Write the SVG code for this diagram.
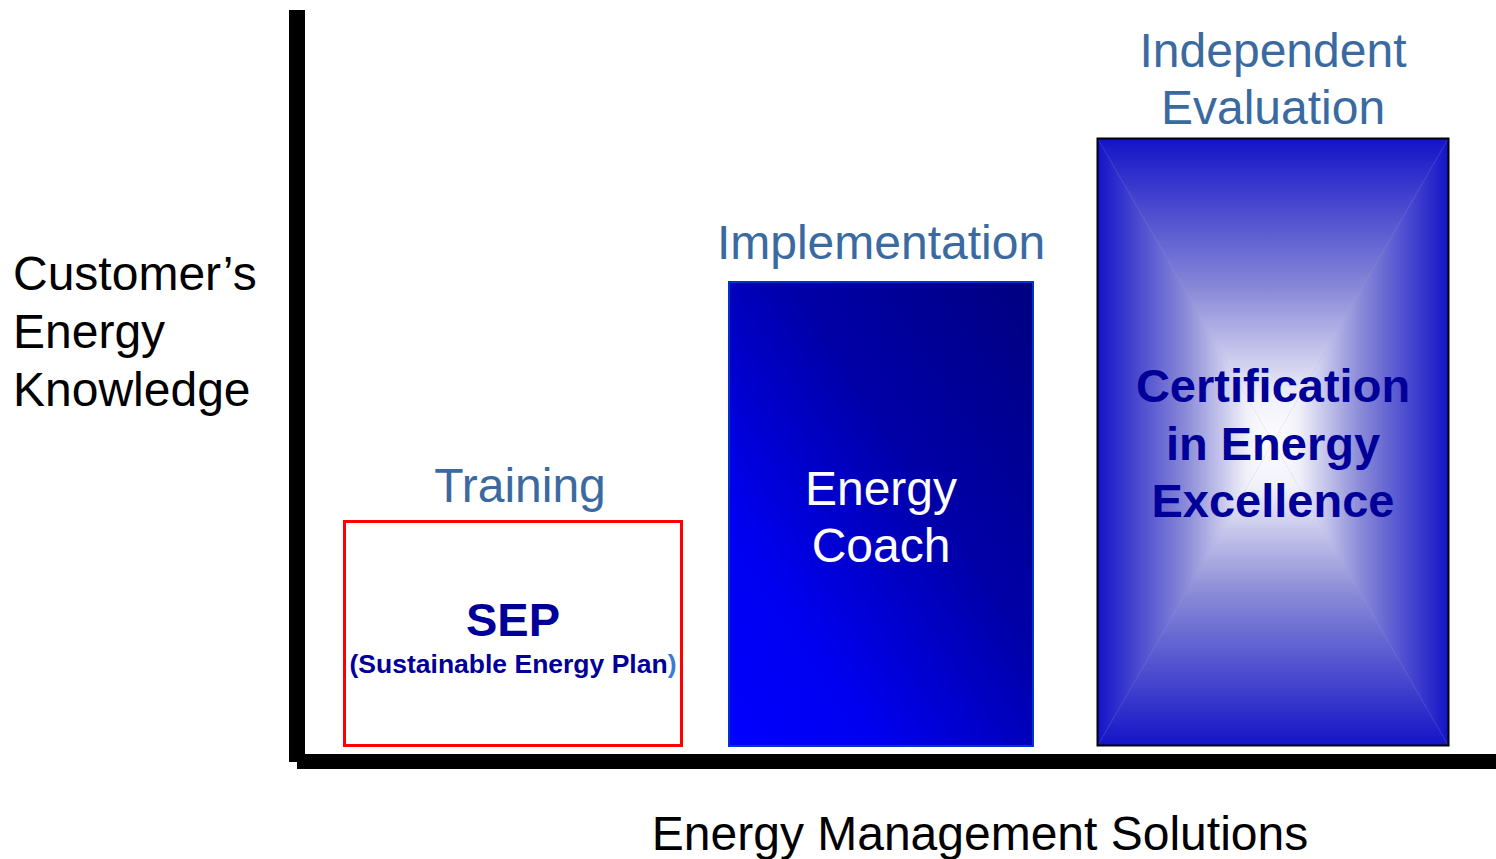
<svg xmlns="http://www.w3.org/2000/svg" width="1496" height="859" viewBox="0 0 1496 859">
<defs>
<linearGradient id="coachGrad" x1="0" y1="1" x2="1" y2="0">
<stop offset="0" stop-color="#0000ff"/>
<stop offset="0.25" stop-color="#0000f0"/>
<stop offset="0.6" stop-color="#0000a8"/>
<stop offset="1" stop-color="#000080"/>
</linearGradient>
<linearGradient id="gTop" gradientUnits="userSpaceOnUse" x1="0" y1="139" x2="0" y2="442">
<stop offset="0" stop-color="#1414c8"/><stop offset="0.5" stop-color="#8a8ad8"/><stop offset="0.85" stop-color="#f0f0fa"/><stop offset="1" stop-color="#ffffff"/>
</linearGradient>
<linearGradient id="gBot" gradientUnits="userSpaceOnUse" x1="0" y1="745" x2="0" y2="442">
<stop offset="0" stop-color="#1414c8"/><stop offset="0.5" stop-color="#8a8ad8"/><stop offset="0.85" stop-color="#f0f0fa"/><stop offset="1" stop-color="#ffffff"/>
</linearGradient>
<linearGradient id="gLeft" gradientUnits="userSpaceOnUse" x1="1098" y1="0" x2="1273" y2="0">
<stop offset="0" stop-color="#1414c8"/><stop offset="0.5" stop-color="#8a8ad8"/><stop offset="0.85" stop-color="#f0f0fa"/><stop offset="1" stop-color="#ffffff"/>
</linearGradient>
<linearGradient id="gRight" gradientUnits="userSpaceOnUse" x1="1448" y1="0" x2="1273" y2="0">
<stop offset="0" stop-color="#1414c8"/><stop offset="0.5" stop-color="#8a8ad8"/><stop offset="0.85" stop-color="#f0f0fa"/><stop offset="1" stop-color="#ffffff"/>
</linearGradient>
</defs>
<style>
text{font-family:"Liberation Sans",Arial,sans-serif;}
.big{font-size:48px;}
.lbl{font-size:48px;fill:#3a6aa0;text-anchor:middle;}
.axis{fill:#000;}
.cert{font-size:47px;font-weight:bold;fill:#000099;text-anchor:middle;}
</style>
<rect width="1496" height="859" fill="#ffffff"/>
<g id="axes">
<rect class="axis" x="289" y="10" width="16" height="752"/>
<rect class="axis" x="297" y="754" width="1199" height="15"/>
</g>
<g id="y-label">
<text class="big" x="13" y="290">Customer’s</text>
<text class="big" x="13" y="348">Energy</text>
<text class="big" x="13" y="406">Knowledge</text>
</g>
<g id="x-label">
<text class="big" x="980" y="850" text-anchor="middle">Energy Management Solutions</text>
</g>
<g id="training">
<text class="lbl" x="520" y="502">Training</text>
<rect x="344.5" y="521.5" width="337" height="224" fill="#ffffff" stroke="#ff0000" stroke-width="3"/>
<text x="513" y="636" text-anchor="middle" font-size="47" font-weight="bold" fill="#000099">SEP</text>
<text x="513" y="673" text-anchor="middle" font-size="26.5" font-weight="bold" fill="#000099">(Sustainable Energy Plan<tspan fill="#3a7ad0">)</tspan></text>
</g>
<g id="implementation">
<text class="lbl" x="881" y="259">Implementation</text>
<rect x="729" y="282" width="304" height="464" fill="url(#coachGrad)" stroke="#0033cc" stroke-width="2"/>
<text x="881" y="505" text-anchor="middle" font-size="48" fill="#ffffff">Energy</text>
<text x="881" y="562" text-anchor="middle" font-size="48" fill="#ffffff">Coach</text>
</g>
<g id="evaluation">
<text class="lbl" x="1273" y="67">Independent</text>
<text class="lbl" x="1273" y="124">Evaluation</text>
<rect x="1098" y="139" width="350" height="606" fill="#a0a0e0"/>
<polygon points="1098,139 1448,139 1273,442" fill="url(#gTop)"/>
<polygon points="1098,745 1448,745 1273,442" fill="url(#gBot)"/>
<polygon points="1098,139 1098,745 1273,442" fill="url(#gLeft)"/>
<polygon points="1448,139 1448,745 1273,442" fill="url(#gRight)"/>
<rect x="1097.5" y="138.5" width="351" height="607" fill="none" stroke="#000000" stroke-width="2"/>
<text class="cert" x="1273" y="402">Certification</text>
<text class="cert" x="1273" y="460">in Energy</text>
<text class="cert" x="1273" y="517">Excellence</text>
</g>
</svg>
